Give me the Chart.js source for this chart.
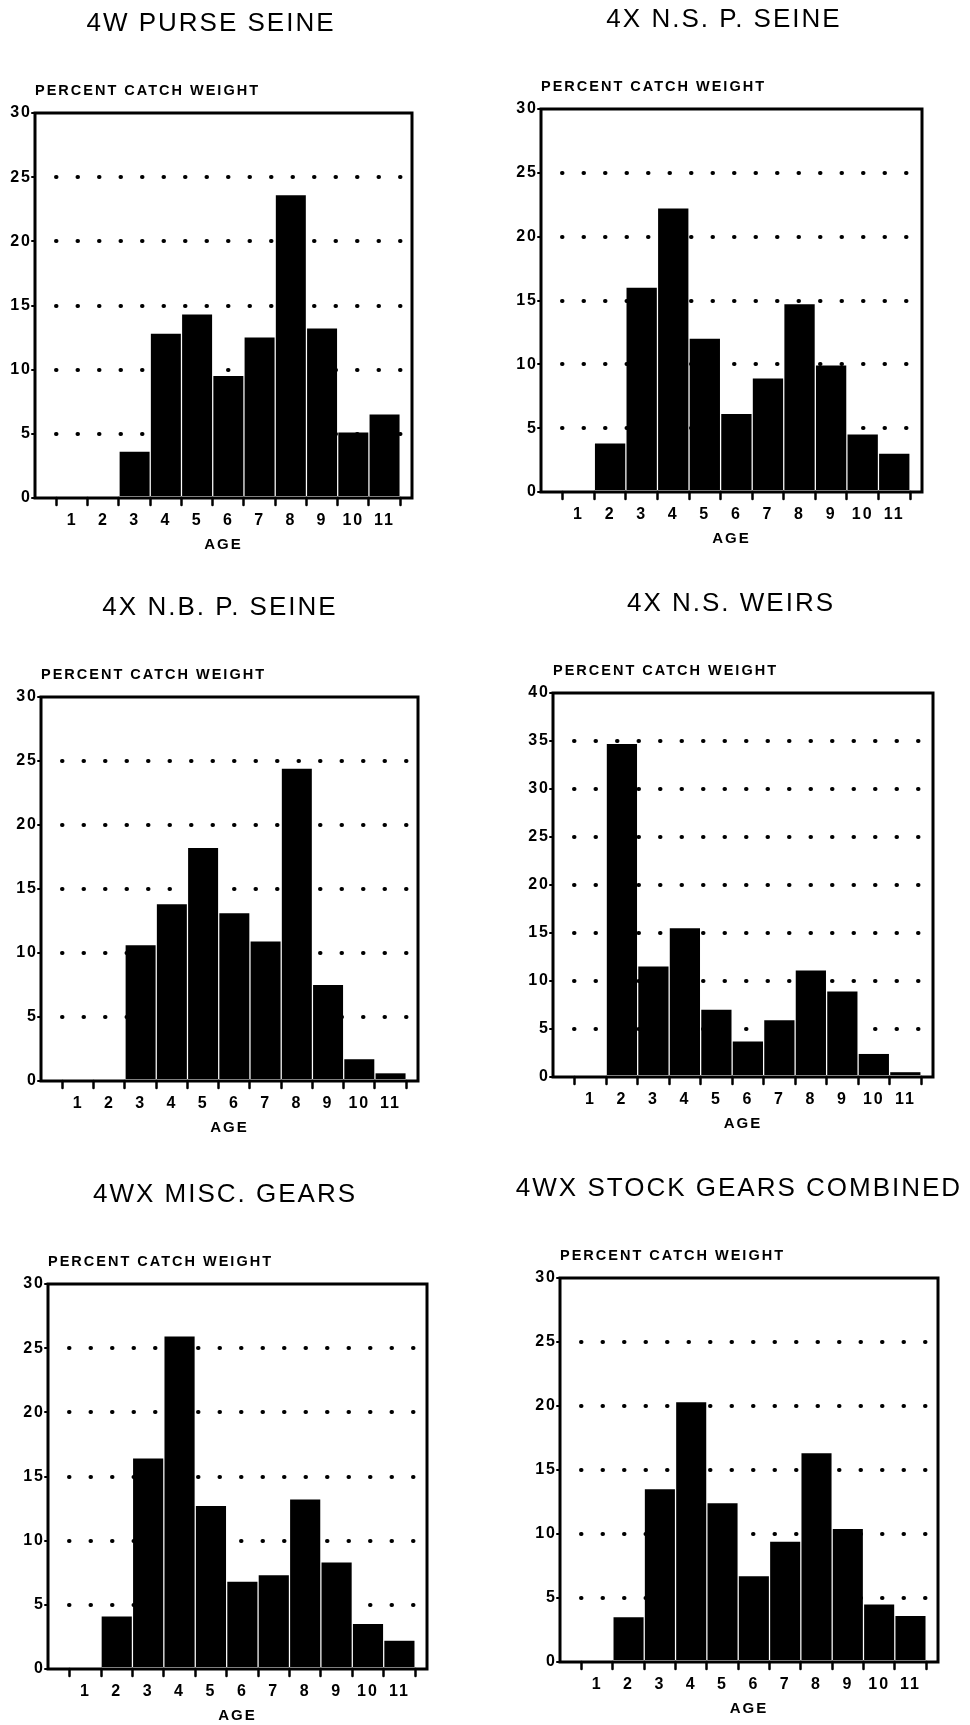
<!DOCTYPE html>
<html>
<head>
<meta charset="utf-8">
<title>Percent catch weight by age</title>
<script src="https://cdn.jsdelivr.net/npm/chart.js@4/dist/chart.umd.min.js"></script>
<style>
  html, body { margin: 0; padding: 0; background: #fff; }
  body { width: 970px; height: 1725px; position: relative; overflow: hidden; }
  canvas { position: absolute; display: block; }
</style>
</head>
<body>
<canvas id="c0"></canvas>
<canvas id="c1"></canvas>
<canvas id="c2"></canvas>
<canvas id="c3"></canvas>
<canvas id="c4"></canvas>
<canvas id="c5"></canvas>
<script>
// ---- data -------------------------------------------------------------
const AGES = [1, 2, 3, 4, 5, 6, 7, 8, 9, 10, 11];

const TITLES = [
  '4W PURSE SEINE',
  '4X N.S. P. SEINE',
  '4X N.B. P. SEINE',
  '4X N.S. WEIRS',
  '4WX MISC. GEARS',
  '4WX STOCK GEARS COMBINED'
];
const Y_LABEL = 'PERCENT CATCH WEIGHT';
const X_LABEL = 'AGE';

// percent of catch weight at each age (1..11)
const purseSeine4W   = [0, 0,    3.6, 12.8, 14.3,  9.5, 12.5, 23.6, 13.2, 5.1, 6.5];
const nsPurseSeine4X = [0, 3.8, 16.0, 22.2, 12.0,  6.1,  8.9, 14.7,  9.9, 4.5, 3.0];
const nbPurseSeine4X = [0, 0,   10.6, 13.8, 18.2, 13.1, 10.9, 24.4,  7.5, 1.7, 0.6];
const nsWeirs4X      = [0, 34.7, 11.5, 15.5, 7.0,  3.7,  5.9, 11.1,  8.9, 2.4, 0.5];
const miscGears4WX   = [0, 4.1, 16.4, 25.9, 12.7,  6.8,  7.3, 13.2,  8.3, 3.5, 2.2];
const combined4WX    = [0, 3.5, 13.5, 20.3, 12.4,  6.7,  9.4, 16.3, 10.4, 4.5, 3.6];

const SERIES = [purseSeine4W, nsPurseSeine4X, nbPurseSeine4X, nsWeirs4X, miscGears4WX, combined4WX];
const Y_MAX  = [30, 30, 30, 40, 30, 30];
const Y_STEP = 5;

// ---- page layout (page pixels) -----------------------------------------
// x0,y0: canvas origin; tx: title centre; L,T,R,B: plot frame
const PANELS = [
  { x0: 0,   y0: 0,    tx: 211, L: 35,  T: 113,  R: 412, B: 498 },
  { x0: 485, y0: 0,    tx: 724, L: 541, T: 109,  R: 922, B: 492 },
  { x0: 0,   y0: 570,  tx: 220, L: 41,  T: 697,  R: 418, B: 1081 },
  { x0: 485, y0: 570,  tx: 731, L: 553, T: 693,  R: 933, B: 1077 },
  { x0: 0,   y0: 1150, tx: 225, L: 48,  T: 1284, R: 427, B: 1669 },
  { x0: 485, y0: 1150, tx: 739, L: 560, T: 1278, R: 938, B: 1662 }
];
const CANVAS_W = 485;
const TITLE_ABOVE = 89.5;   // title centre above frame top
const SUB_ABOVE = 22;       // y-label centre above frame top
const TICK_BELOW = 23;      // age label centre below frame bottom
const AGE_BELOW = 47;       // "AGE" centre below frame bottom
const X_RANGE = [0.36, 11.33];

const FAMILY = "'Liberation Sans', Arial, Helvetica, sans-serif";
const TITLE_SIZE = 26, SUB_SIZE = 14.5, TICK_SIZE = 16, AGE_SIZE = 15;
const LH = 1.2;
const X_TICK_LEN = 7;

Chart.defaults.color = '#000';
Chart.defaults.font.family = FAMILY;

// widely tracked lettering, round-ended strokes (dotted guide lines)
const penStyle = {
  id: 'penStyle',
  beforeDraw(chart) {
    chart.ctx.letterSpacing = '2px';
    chart.ctx.lineCap = 'round';
  }
};

// boxed plot area, drawn under the bars
const frame = {
  id: 'frame',
  beforeDatasetsDraw(chart) {
    const { ctx, chartArea: a } = chart;
    ctx.save();
    ctx.lineWidth = 3;
    ctx.strokeStyle = '#000';
    ctx.lineJoin = 'miter';
    ctx.strokeRect(a.left, a.top, a.right - a.left, a.bottom - a.top);
    ctx.restore();
  }
};

function makeChart(i) {
  const g = PANELS[i];
  const canvas = document.getElementById('c' + i);

  const titleLH = TITLE_SIZE * LH, subLH = SUB_SIZE * LH;
  const ageLH = AGE_SIZE * LH, tickLH = TICK_SIZE * LH;

  // horizontal: centre the title on tx, keep the frame at L..R
  const tcl = g.tx - g.x0;
  const diff = 2 * tcl - CANVAS_W;
  const padL = Math.max(diff, 0), padR = Math.max(-diff, 0);
  const yAxisW = g.L - g.x0 - padL;
  const rightW = g.x0 + CANVAS_W - padR - g.R;

  // vertical
  const ty = g.T - TITLE_ABOVE - g.y0;
  const sy = g.T - SUB_ABOVE - g.y0;
  const padT = ty - titleLH / 2;
  const subPadTop = (sy - subLH / 2) - (ty + titleLH / 2);
  const subPadBottom = (g.T - g.y0) - (sy + subLH / 2);
  const H = Math.round(g.B - g.y0 + AGE_BELOW + ageLH / 2);
  const xAxisH = H - (g.B - g.y0);
  const xTickPad = TICK_BELOW - X_TICK_LEN - tickLH / 2;

  canvas.width = CANVAS_W;
  canvas.height = H;
  canvas.style.left = g.x0 + 'px';
  canvas.style.top = g.y0 + 'px';
  canvas.style.width = CANVAS_W + 'px';
  canvas.style.height = H + 'px';

  const yMax = Y_MAX[i];
  const values = SERIES[i];

  return new Chart(canvas, {
    type: 'bar',
    data: {
      datasets: [{
        data: AGES.map((a, k) => ({ x: a, y: values[k] })),
        backgroundColor: '#000',
        borderWidth: 0,
        barPercentage: 0.96,
        categoryPercentage: 1,
        clip: false
      }]
    },
    options: {
      responsive: false,
      animation: false,
      devicePixelRatio: 1,
      events: [],
      layout: { padding: { left: padL, right: padR, top: padT, bottom: 0 } },
      plugins: {
        legend: { display: false },
        tooltip: { enabled: false },
        title: {
          display: true,
          text: TITLES[i],
          color: '#000',
          font: { family: FAMILY, size: TITLE_SIZE, weight: 'normal', lineHeight: LH },
          padding: { top: 0, bottom: 0 }
        },
        subtitle: {
          display: true,
          text: Y_LABEL,
          align: 'start',
          fullSize: false,
          color: '#000',
          font: { family: FAMILY, size: SUB_SIZE, weight: 'bold', lineHeight: LH },
          padding: { top: subPadTop, bottom: subPadBottom }
        }
      },
      scales: {
        x: {
          type: 'linear',
          position: 'bottom',
          min: X_RANGE[0],
          max: X_RANGE[1],
          afterBuildTicks(scale) { scale.ticks = AGES.map(v => ({ value: v })); },
          afterFit(scale) { scale.height = xAxisH; },
          grid: {
            drawOnChartArea: false,
            drawTicks: true,
            tickLength: X_TICK_LEN,
            tickWidth: 2.5,
            tickColor: '#000'
          },
          border: { display: false },
          ticks: {
            padding: xTickPad,
            maxRotation: 0,
            autoSkip: false,
            color: '#000',
            font: { family: FAMILY, size: TICK_SIZE, weight: 'bold', lineHeight: LH }
          },
          title: {
            display: true,
            text: X_LABEL,
            color: '#000',
            font: { family: FAMILY, size: AGE_SIZE, weight: 'bold', lineHeight: LH },
            padding: { top: 0, bottom: 0 }
          }
        },
        y: {
          type: 'linear',
          position: 'left',
          min: 0,
          max: yMax,
          afterFit(scale) { scale.width = yAxisW; },
          grid: {
            color: ctx => (ctx.tick && (ctx.tick.value === 0 || ctx.tick.value === yMax)) ? 'rgba(0,0,0,0)' : '#000',
            lineWidth: 4,
            drawTicks: true,
            tickLength: 3,
            tickWidth: 2,
            tickColor: '#000'
          },
          border: { display: false, dash: [0.5, 21], dashOffset: 0.5 },
          ticks: {
            stepSize: Y_STEP,
            padding: 0,
            color: '#000',
            font: { family: FAMILY, size: TICK_SIZE, weight: 'bold', lineHeight: LH }
          }
        },
        edge: {
          type: 'linear',
          position: 'right',
          display: true,
          afterFit(scale) { scale.width = rightW; },
          grid: { display: false, drawOnChartArea: false, drawTicks: false },
          border: { display: false },
          ticks: { display: false }
        }
      }
    },
    plugins: [penStyle, frame]
  });
}

PANELS.forEach((_, i) => makeChart(i));
</script>
</body>
</html>
